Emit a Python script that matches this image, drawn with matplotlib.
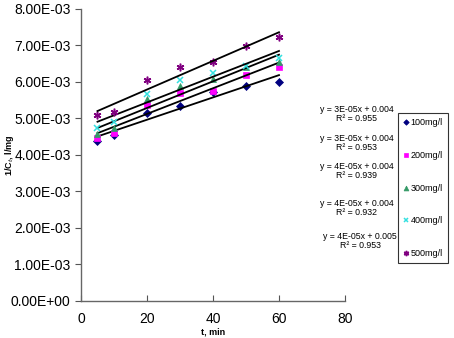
import numpy as np
import matplotlib
matplotlib.use('Agg')
import matplotlib.pyplot as plt

plt.rcParams['font.family'] = ['Liberation Sans', 'DejaVu Sans']

# time, min
t = [5, 10, 20, 30, 40, 50, 60]

# 1/Ct, l/mg for each initial concentration
c100 = [4.38e-3, 4.54e-3, 5.16e-3, 5.34e-3, 5.73e-3, 5.89e-3, 6.01e-3]
c200 = [4.47e-3, 4.61e-3, 5.36e-3, 5.71e-3, 5.76e-3, 6.19e-3, 6.41e-3]
c300 = [4.57e-3, 4.75e-3, 5.53e-3, 5.88e-3, 6.08e-3, 6.40e-3, 6.54e-3]
c400 = [4.75e-3, 4.90e-3, 5.66e-3, 6.06e-3, 6.24e-3, 6.44e-3, 6.67e-3]
c500 = [5.10e-3, 5.18e-3, 6.06e-3, 6.40e-3, 6.55e-3, 6.98e-3, 7.22e-3]

labels = ['100mg/l', '200mg/l', '300mg/l', '400mg/l', '500mg/l']
equations = ['y = 3E-05x + 0.004\nR\u00b2 = 0.955',
             'y = 3E-05x + 0.004\nR\u00b2 = 0.953',
             'y = 4E-05x + 0.004\nR\u00b2 = 0.939',
             'y = 4E-05x + 0.004\nR\u00b2 = 0.932',
             'y = 4E-05x + 0.005\nR\u00b2 = 0.953']

series = [c100, c200, c300, c400, c500]
colors = ['#000080', '#ff00ff', '#339966', '#33e0e0', '#800080']
markers = ['D', 's', '^', 'x', (6, 2, 0)]
msizes = [4, 5, 5, 5, 5.5]

fig = plt.figure(figsize=(4.54, 3.38), dpi=100)
ax = fig.add_axes([0.1784, 0.1095, 0.5815, 0.864])

handles = []
for y, c, m, ms in zip(series, colors, markers, msizes):
    h, = ax.plot(t, y, linestyle='none', marker=m, color=c, markersize=ms,
                 markeredgewidth=1.1 if m in ('x', (6, 2, 0)) else 0.5)
    handles.append(h)
    k, b = np.polyfit(t, y, 1)
    xs = np.array([t[0], t[-1]])
    ax.plot(xs, k * xs + b, color='black', lw=1.3)

ax.set_xlim(0, 80)
ax.set_ylim(0, 8e-3)
ax.set_xticks([0, 20, 40, 60, 80])
ax.set_yticks(np.arange(0, 8.01e-3, 1e-3))
ax.set_yticklabels(['%.2E' % v for v in np.arange(0, 8.01e-3, 1e-3)])
ax.tick_params(axis='y', direction='out', length=4, labelsize=10, width=0.8, color='#555555')
ax.tick_params(axis='x', direction='in', length=4, labelsize=10, width=0.8, color='#555555', pad=8)
for s in ['top', 'right']:
    ax.spines[s].set_visible(False)
for s in ['left', 'bottom']:
    ax.spines[s].set_color('#666666')
    ax.spines[s].set_linewidth(1.0)

ax.set_xlabel('t, min', fontsize=6.5, fontweight='bold', labelpad=1)
ax.set_ylabel('1/C$_t$, l/mg', fontsize=6.5, fontweight='bold', labelpad=4)
ax.yaxis.set_label_coords(-0.245, 0.5)

# trendline equations
eq_pos = [(357, 114), (357, 143), (357, 171), (357, 208), (360, 241)]
for (px, py), txt in zip(eq_pos, equations):
    fig.text(px / 454, 1 - py / 338, txt, fontsize=6.3, ha='center', va='center',
             linespacing=1.0)

leg = fig.legend(handles, labels, loc='upper left', bbox_to_anchor=(398 / 454, 1 - 113 / 338),
                 fontsize=6.5, frameon=True, fancybox=False, edgecolor='black',
                 labelspacing=2.62, handlelength=0.6, handletextpad=0.2,
                 borderpad=0.6, markerscale=0.7, borderaxespad=0)
leg.get_frame().set_linewidth(0.8)

plt.savefig('out.png', dpi=100)
